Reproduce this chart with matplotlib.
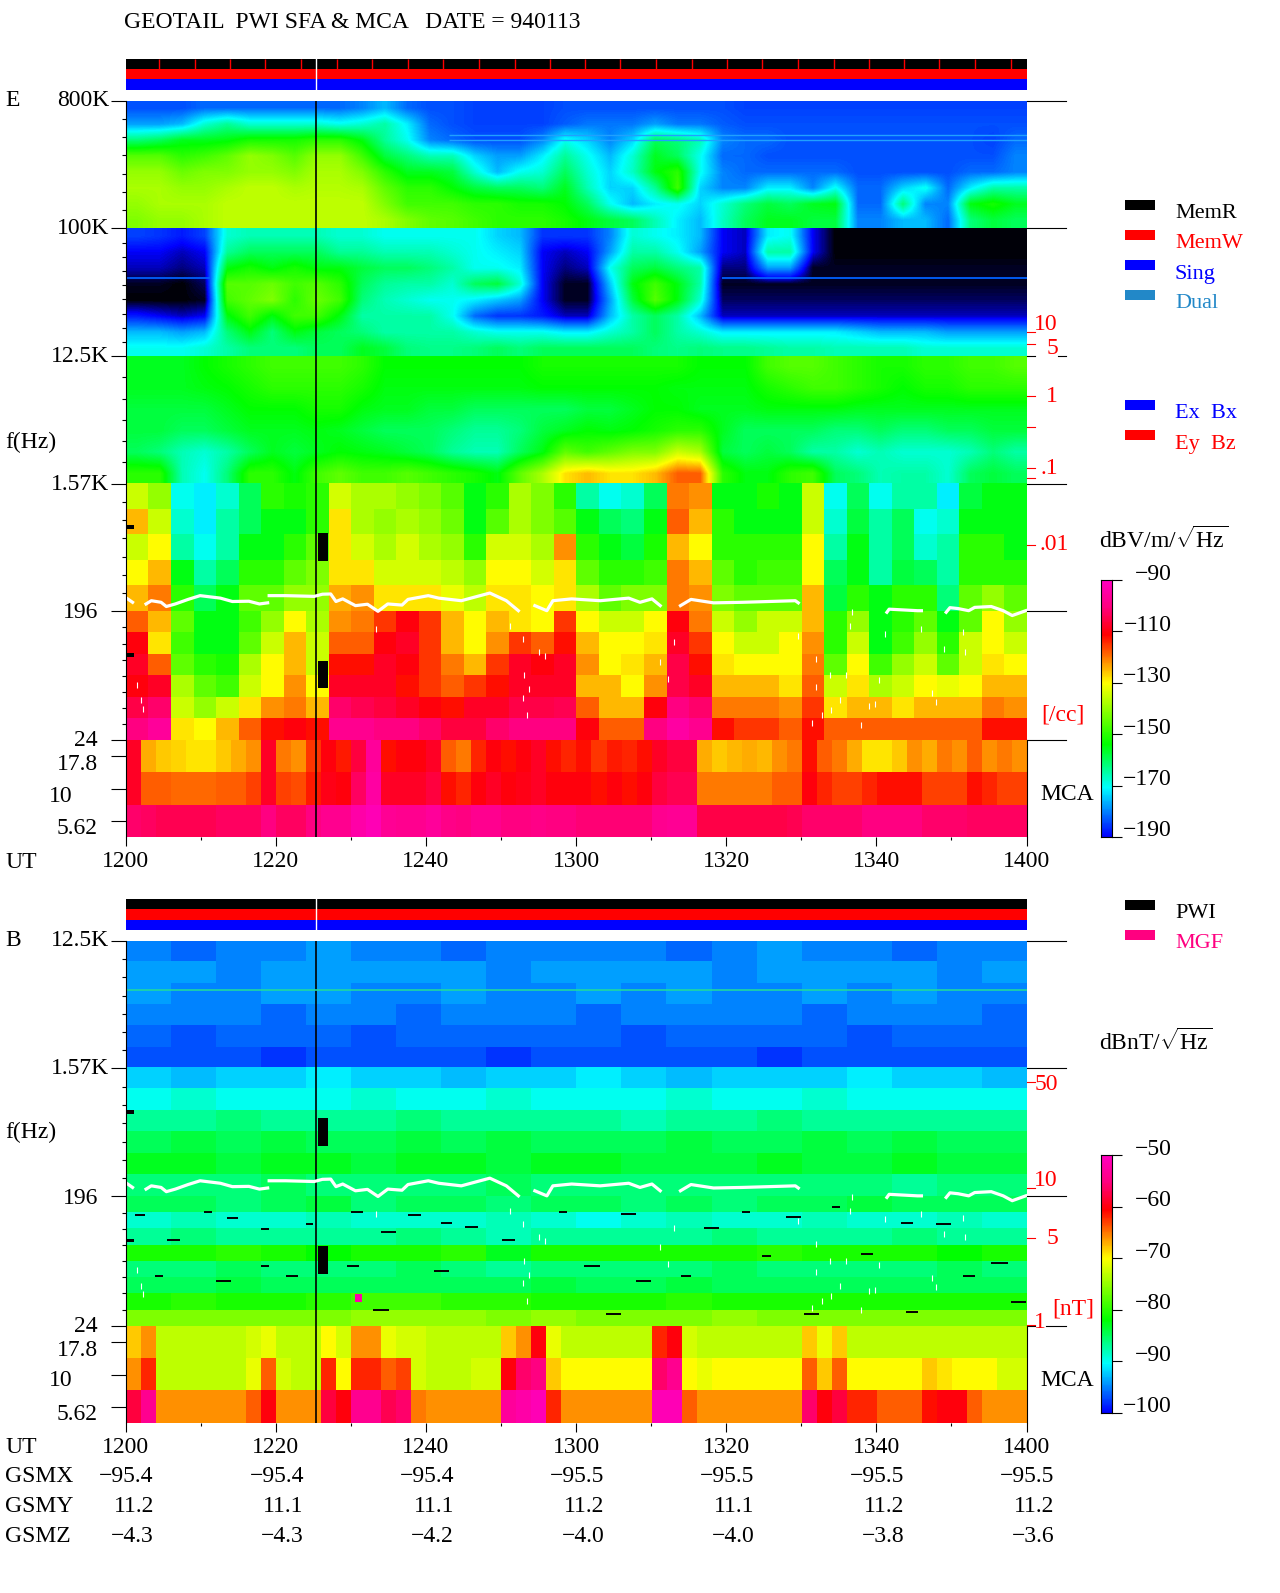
import numpy as np
import matplotlib
matplotlib.use("Agg")
import matplotlib.pyplot as plt
from matplotlib.colors import LinearSegmentedColormap, Normalize
from matplotlib.patches import Rectangle

plt.rcParams['font.family'] = ['Liberation Serif', 'DejaVu Sans']
plt.rcParams['mathtext.fontset'] = 'custom'
plt.rcParams['mathtext.rm'] = 'Liberation Serif'

# E panel, dB values read per 3 minute column, one list per row, top row first
E_800K_100K = [
    [-184,-184,-184,-182,-182,-182,-182,-182,-182,-182,-180,-176,-182,-184,-184,-185,-185,-185,-185,-184,-184,-184,-184,-184,-184,-184,-184,-185,-185,-185,-185,-185,-185,-185,-185,-185,-185,-185,-185,-185],
    [-178,-178,-176,-168,-164,-168,-168,-168,-168,-170,-168,-165,-172,-182,-184,-185,-185,-185,-185,-183,-181,-181,-181,-178,-181,-181,-183,-184,-184,-184,-184,-184,-184,-184,-184,-184,-184,-184,-184,-184],
    [-162,-160,-156,-156,-155,-152,-152,-152,-150,-150,-155,-164,-170,-180,-182,-184,-184,-184,-180,-170,-174,-180,-174,-160,-162,-166,-180,-182,-182,-184,-184,-184,-184,-184,-184,-184,-184,-184,-185,-182],
    [-146,-146,-150,-148,-145,-140,-142,-146,-140,-140,-148,-158,-162,-166,-166,-174,-178,-178,-172,-164,-170,-176,-168,-156,-160,-170,-182,-182,-184,-184,-184,-184,-184,-184,-184,-184,-184,-184,-184,-180],
    [-140,-140,-144,-142,-142,-140,-140,-142,-138,-138,-142,-150,-156,-156,-158,-168,-176,-170,-168,-160,-168,-174,-167,-155,-150,-170,-180,-182,-182,-182,-182,-182,-184,-184,-184,-184,-184,-182,-182,-180],
    [-138,-138,-140,-140,-138,-136,-136,-138,-137,-137,-138,-145,-150,-150,-154,-158,-160,-160,-162,-156,-166,-174,-174,-164,-148,-174,-180,-180,-172,-172,-180,-170,-182,-182,-174,-170,-182,-172,-165,-165],
    [-140,-138,-138,-138,-136,-136,-136,-136,-136,-136,-136,-142,-148,-148,-148,-150,-150,-152,-152,-154,-160,-170,-176,-172,-170,-174,-168,-162,-158,-160,-156,-155,-182,-182,-162,-180,-180,-155,-152,-156],
    [-142,-140,-140,-138,-136,-136,-136,-136,-136,-136,-136,-138,-142,-145,-146,-148,-150,-150,-150,-152,-155,-158,-160,-166,-172,-176,-167,-160,-156,-156,-158,-158,-180,-180,-176,-176,-182,-162,-158,-160],
]
E_100K_12K = [
    [-185,-186,-188,-185,-168,-166,-166,-166,-166,-168,-168,-170,-170,-170,-170,-170,-174,-176,-186,-186,-186,-180,-168,-170,-172,-176,-190,-192,-172,-170,-190,-198,-198,-198,-198,-198,-198,-198,-198,-198],
    [-190,-190,-192,-190,-164,-160,-160,-160,-160,-164,-164,-166,-166,-166,-168,-170,-172,-174,-190,-192,-190,-178,-165,-165,-170,-178,-190,-192,-165,-165,-190,-198,-198,-198,-198,-198,-198,-198,-198,-198],
    [-192,-192,-194,-192,-155,-152,-155,-152,-155,-155,-158,-160,-160,-162,-165,-170,-170,-172,-190,-194,-192,-170,-160,-158,-162,-165,-194,-194,-178,-178,-197,-197,-197,-197,-197,-197,-197,-197,-197,-197],
    [-197,-197,-198,-195,-146,-146,-144,-148,-146,-150,-160,-164,-165,-165,-168,-160,-158,-168,-190,-197,-197,-175,-155,-148,-155,-165,-197,-197,-197,-197,-197,-197,-197,-197,-197,-197,-197,-197,-197,-197],
    [-198,-198,-198,-197,-148,-145,-142,-150,-144,-148,-162,-166,-168,-170,-170,-172,-175,-178,-190,-197,-197,-178,-158,-146,-155,-168,-195,-195,-195,-195,-195,-195,-195,-195,-195,-195,-195,-195,-195,-195],
    [-188,-190,-192,-190,-155,-148,-155,-148,-148,-155,-165,-165,-165,-165,-170,-182,-186,-186,-188,-192,-192,-176,-165,-160,-165,-176,-192,-192,-192,-192,-192,-192,-192,-192,-192,-192,-192,-192,-192,-192],
    [-176,-176,-178,-176,-162,-155,-162,-155,-158,-160,-162,-165,-165,-165,-165,-168,-170,-170,-170,-172,-172,-168,-165,-160,-165,-168,-172,-172,-172,-172,-172,-172,-174,-176,-176,-176,-178,-178,-178,-178],
    [-170,-170,-170,-168,-165,-162,-162,-162,-160,-160,-156,-158,-162,-163,-163,-162,-160,-162,-160,-160,-160,-160,-160,-162,-163,-162,-163,-163,-164,-165,-165,-166,-166,-166,-166,-168,-168,-168,-168,-168],
]
E_12K_1K = [
    [-156,-156,-156,-154,-152,-150,-148,-148,-148,-148,-150,-154,-154,-154,-154,-154,-154,-154,-152,-152,-152,-152,-152,-152,-152,-154,-154,-154,-148,-146,-146,-148,-150,-152,-152,-150,-150,-148,-148,-146],
    [-156,-156,-156,-155,-154,-152,-150,-150,-150,-150,-152,-155,-155,-155,-155,-155,-155,-155,-154,-154,-154,-154,-154,-154,-155,-155,-155,-155,-152,-150,-148,-148,-150,-152,-154,-152,-152,-150,-150,-150],
    [-158,-158,-158,-158,-156,-154,-154,-154,-152,-152,-155,-156,-156,-158,-158,-160,-160,-160,-160,-160,-158,-158,-156,-154,-154,-156,-156,-156,-155,-155,-155,-155,-156,-156,-156,-156,-156,-156,-156,-156],
    [-158,-158,-160,-160,-158,-156,-156,-156,-155,-156,-158,-160,-160,-160,-162,-164,-164,-162,-158,-156,-154,-155,-154,-152,-150,-150,-156,-160,-160,-160,-160,-162,-162,-160,-162,-162,-160,-160,-158,-158],
    [-160,-162,-166,-168,-165,-160,-156,-158,-156,-154,-155,-156,-158,-160,-164,-166,-166,-160,-155,-145,-148,-145,-142,-142,-135,-138,-158,-160,-158,-160,-165,-165,-168,-166,-168,-168,-168,-166,-162,-165],
    [-150,-150,-166,-170,-162,-150,-150,-155,-148,-145,-148,-148,-146,-148,-150,-152,-155,-145,-138,-128,-125,-128,-128,-125,-118,-118,-150,-155,-155,-150,-148,-160,-162,-166,-165,-165,-168,-160,-158,-160],
]
E_1K_196 = [
    [-135,-140,-170,-172,-168,-160,-150,-152,-150,-134,-138,-138,-140,-142,-146,-155,-150,-138,-142,-150,-165,-170,-168,-160,-120,-122,-155,-155,-152,-155,-135,-170,-160,-170,-165,-165,-172,-158,-155,-155],
    [-125,-135,-168,-172,-165,-160,-155,-155,-150,-128,-138,-140,-138,-140,-144,-155,-146,-138,-142,-146,-155,-160,-162,-155,-118,-125,-150,-155,-155,-155,-135,-168,-158,-165,-160,-170,-168,-155,-155,-155],
    [-135,-130,-165,-170,-165,-155,-155,-150,-145,-128,-134,-138,-134,-138,-140,-150,-134,-134,-138,-122,-150,-155,-158,-152,-125,-130,-150,-150,-150,-150,-130,-165,-155,-165,-160,-168,-165,-150,-150,-155],
    [-130,-125,-155,-165,-160,-150,-150,-145,-142,-128,-128,-134,-134,-134,-136,-140,-130,-130,-134,-128,-145,-150,-150,-148,-120,-125,-145,-150,-148,-148,-130,-160,-155,-165,-158,-160,-165,-150,-150,-150],
    [-125,-120,-150,-160,-155,-145,-145,-140,-140,-124,-122,-128,-128,-128,-132,-136,-128,-128,-130,-128,-138,-145,-142,-142,-120,-122,-142,-145,-145,-145,-125,-158,-150,-155,-150,-150,-162,-145,-140,-145],
]
E_196_24 = [
    [-118,-125,-145,-155,-155,-148,-140,-130,-138,-122,-120,-115,-110,-115,-125,-130,-125,-128,-130,-115,-130,-135,-135,-130,-110,-120,-135,-140,-135,-135,-125,-150,-140,-155,-150,-145,-155,-145,-130,-140],
    [-110,-128,-148,-155,-155,-145,-135,-125,-135,-118,-118,-110,-108,-115,-125,-130,-122,-115,-118,-112,-125,-130,-130,-128,-108,-115,-130,-135,-135,-130,-122,-150,-135,-155,-148,-140,-150,-135,-130,-135],
    [-108,-118,-145,-150,-152,-138,-130,-125,-135,-112,-112,-108,-110,-115,-120,-125,-115,-108,-110,-108,-122,-130,-128,-125,-105,-112,-128,-130,-130,-130,-120,-145,-130,-148,-140,-135,-145,-135,-128,-130],
    [-110,-108,-138,-145,-148,-135,-130,-122,-130,-108,-108,-108,-112,-115,-118,-115,-112,-108,-108,-108,-125,-125,-130,-122,-105,-108,-125,-125,-125,-128,-118,-135,-128,-138,-135,-130,-132,-130,-125,-125],
    [-105,-102,-135,-140,-135,-128,-122,-120,-125,-102,-104,-106,-108,-110,-112,-108,-108,-105,-105,-104,-118,-125,-125,-110,-100,-102,-120,-120,-120,-122,-115,-128,-125,-125,-128,-125,-125,-125,-120,-122],
    [-100,-96,-128,-130,-125,-118,-112,-110,-112,-98,-98,-100,-100,-102,-106,-106,-102,-100,-100,-100,-110,-118,-118,-100,-95,-98,-112,-115,-115,-118,-112,-118,-118,-118,-118,-118,-118,-118,-112,-112],
]
# MCA channels, 2 minute columns
E_MCA_17 = [-108,-124,-126,-127,-128,-128,-126,-124,-122,-108,-120,-122,-115,-110,-113,-106,-96,-112,-110,-110,-108,-118,-120,-114,-110,-112,-110,-108,-112,-114,-112,-115,-113,-114,-112,-108,-106,-106,-124,-126,-125,-124,-125,-122,-120,-112,-118,-120,-124,-128,-128,-126,-122,-124,-120,-122,-118,-122,-120,-122]
E_MCA_10 = [-108,-118,-118,-119,-119,-119,-118,-118,-116,-108,-116,-117,-113,-109,-110,-103,-95,-108,-108,-108,-106,-112,-114,-110,-108,-110,-109,-108,-110,-110,-110,-112,-110,-112,-110,-106,-104,-104,-120,-120,-120,-120,-120,-118,-118,-110,-114,-116,-116,-114,-112,-112,-112,-116,-116,-116,-112,-114,-116,-116]
E_MCA_5 = [-102,-103,-104,-104,-104,-104,-103,-103,-103,-100,-103,-103,-100,-98,-98,-94,-92,-97,-98,-98,-96,-99,-100,-98,-98,-100,-100,-99,-100,-100,-101,-101,-101,-101,-101,-98,-97,-97,-105,-105,-105,-105,-105,-105,-104,-102,-102,-102,-102,-100,-100,-100,-100,-102,-102,-102,-103,-103,-103,-103]

# B panel, 6 minute columns, top row first
B_12K_1K = [
    [-95,-96,-95,-95,-94,-95,-95,-96,-95,-95,-95,-95,-96,-95,-94,-95,-95,-96,-95,-95],
    [-94,-94,-95,-94,-94,-94,-94,-94,-95,-94,-94,-94,-94,-95,-94,-94,-94,-94,-95,-94],
    [-94,-95,-95,-94,-94,-95,-95,-94,-95,-95,-94,-95,-94,-95,-95,-94,-95,-94,-95,-95],
    [-95,-95,-95,-96,-95,-95,-96,-95,-95,-95,-96,-95,-95,-95,-95,-96,-95,-95,-95,-96],
    [-96,-97,-96,-96,-96,-97,-96,-96,-96,-96,-96,-97,-96,-96,-96,-96,-97,-96,-96,-96],
    [-97,-97,-97,-98,-97,-97,-97,-97,-98,-97,-97,-97,-97,-97,-98,-97,-97,-97,-97,-97],
]
B_1K_196 = [
    [-92,-93,-92,-92,-91,-92,-92,-93,-92,-92,-91,-92,-93,-92,-92,-92,-91,-92,-92,-93],
    [-90,-89,-90,-90,-90,-89,-90,-90,-89,-90,-90,-90,-89,-90,-90,-89,-90,-90,-90,-90],
    [-87,-87,-86,-87,-87,-87,-86,-87,-87,-87,-87,-88,-87,-87,-86,-87,-87,-87,-87,-87],
    [-85,-84,-85,-84,-85,-85,-84,-85,-84,-85,-85,-85,-84,-85,-85,-84,-85,-84,-85,-85],
    [-83,-83,-84,-83,-83,-84,-83,-83,-84,-83,-83,-84,-84,-84,-83,-84,-84,-83,-84,-84],
    [-86,-86,-86,-85,-86,-86,-86,-86,-85,-86,-86,-86,-86,-86,-86,-86,-86,-87,-86,-86],
]
B_196_24 = [
    [-85,-85,-86,-85,-84,-86,-85,-85,-86,-85,-85,-86,-85,-86,-85,-85,-84,-85,-85,-85],
    [-89,-88,-89,-89,-88,-89,-89,-89,-88,-89,-90,-89,-88,-89,-89,-88,-89,-89,-88,-89],
    [-87,-86,-87,-87,-87,-87,-86,-87,-88,-87,-87,-87,-87,-86,-87,-87,-87,-86,-87,-87],
    [-81,-81,-80,-81,-82,-81,-81,-80,-83,-81,-81,-81,-81,-81,-80,-81,-81,-81,-82,-81],
    [-86,-86,-85,-86,-86,-86,-85,-86,-87,-86,-86,-86,-86,-85,-86,-86,-86,-86,-85,-86],
    [-85,-85,-84,-85,-85,-85,-85,-85,-85,-84,-85,-85,-84,-85,-85,-85,-85,-85,-85,-85],
    [-81,-80,-81,-81,-80,-79,-79,-80,-80,-81,-81,-81,-80,-81,-81,-81,-81,-81,-81,-81],
    [-76,-76,-76,-76,-76,-75,-75,-75,-76,-75,-76,-76,-76,-75,-76,-76,-76,-76,-76,-76],
]
B_MCA_17 = [-68,-66,-73,-73,-73,-73,-73,-73,-72,-71,-73,-73,-73,-70,-72,-66,-66,-71,-72,-72,-73,-73,-73,-73,-73,-68,-66,-60,-71,-73,-73,-73,-73,-73,-73,-62,-60,-72,-73,-73,-73,-73,-73,-73,-73,-68,-71,-68,-73,-73,-73,-73,-73,-73,-73,-73,-73,-73,-73,-73]
B_MCA_10 = [-66,-62,-73,-73,-73,-73,-73,-73,-71,-64,-72,-73,-73,-62,-70,-62,-62,-64,-63,-72,-73,-73,-73,-72,-72,-60,-56,-55,-68,-70,-70,-70,-70,-70,-70,-56,-54,-70,-71,-70,-70,-70,-70,-70,-70,-64,-68,-64,-70,-70,-70,-70,-70,-68,-69,-70,-70,-70,-72,-72]
B_MCA_5 = [-58,-54,-66,-66,-66,-66,-66,-66,-64,-60,-66,-66,-66,-58,-60,-54,-54,-57,-56,-65,-66,-66,-66,-66,-66,-53,-52,-51,-62,-66,-66,-66,-66,-66,-66,-51,-51,-64,-66,-66,-66,-66,-66,-66,-66,-56,-60,-58,-62,-62,-64,-64,-64,-61,-60,-60,-64,-66,-66,-66]

# white trace, minutes after 1200 and Hz, nan marks a break
TRACE_T = [0.1,0.9,np.nan,2.7,3.4,4.7,5.4,6.6,8.3,9.9,12.6,14.2,16.4,17.8,18.9,np.nan,19.1,21.3,25.1,26.2,27.3,28,28.9,30.6,32.2,33.6,34.9,36.8,37.6,40.3,41.7,44.7,48.5,50.7,52.3,np.nan,54.5,56.1,56.9,59.4,63.2,67,68.5,70.1,71.2,np.nan,73.9,75.3,78.3,82.1,89.2,89.6,np.nan,101.4,101.7,105.5,106,np.nan,109.3,109.8,110.9,112.3,113.1,115.3,116.9,118.1,119.9]
TRACE_F = [243,227,np.nan,221,233,227,212,221,238,253,243,230,231,221,225,np.nan,253,253,250,259,260,230,240,215,220,196,221,217,238,253,243,233,264,233,198,np.nan,215,198,233,240,233,243,227,240,215,np.nan,215,238,225,227,233,225,np.nan,193,203,198,198,np.nan,193,208,205,198,209,212,198,183,198]
SPECK_T = [91.4,92.7,94,95.2,93.8,92,91.9,96,96.8,96.5,97.9,99,99.8,100.3,101.1,106,107.4,108,109,111.5,111.8,89.5,72.3,73.1,71.2,1.5,2,2.3,53.1,53.7,52.9,53.4,55,55.8,51.2,52.9,33.3]
SPECK_F = [32,36,39,46,69,57,90,69,193,155,31,42,43,64,136,147,52,45,106,139,101,132,65,118,86,59,46,40,69,55,48,36,101,95,155,125,147]

# data gaps (t0, t1, f low, f high)
GAPS = [(25.6, 27.0, 446, 700), (25.6, 27.0, 56, 88), (0, 1.1, 750, 800), (0, 1.1, 93, 99)]
# black dropouts in the B panel (t0, t1, Hz)
B_DROPS = [(1.2,2.6,145),(10.4,11.5,153),(18,19.1,115),(5.5,7.2,96),(3.9,5,54),(18,19.1,63),(21.3,22.9,54),(30,31.6,153),(29.5,31.1,63),
           (37.6,39.3,145),(45.2,46.9,119),(57.7,58.8,153),(61,63.2,63),(50.1,51.8,96),(82.1,83.2,153),(94.1,95.2,165),(103.3,104.9,128),
           (74,75.3,54),(84.8,85.9,75),(97.9,99.5,77),(111.5,113.1,54),(115.3,117.5,66),(118,119.9,35),(103.9,105.5,30),(90.3,92.4,29),
           (13.5,15,138),(24,25,125),(34,36,110),(42,43.5,128),(66,68,148),(77,79,118),(88,90,140),(108,110,125),(12,14,50),(41,43,58),(68,70,50),(33,35,31),(64,66,29)]
B_SPOT = (30.5, 31.5, 35, 40, -52)
B_LINE_HZ = 5600

HEADER_MARKS = [4.46,9.19,13.92,18.6,23.35,28.1,32.8,37.6,42.3,47,51.8,56.5,61.2,65.9,70.7,75.4,80.1,84.8,89.5,94.3,99,103.7,108.4,113.2,117.9]
EVENT_T = 25.4
TIME_TICKS = [0, 20, 40, 60, 80, 100, 120]
TIME_LABELS = ['1200', '1220', '1240', '1300', '1320', '1340', '1400']
GSMX = ['−95.4', '−95.4', '−95.4', '−95.5', '−95.5', '−95.5', '−95.5']
GSMY = ['11.2', '11.1', '11.1', '11.2', '11.1', '11.2', '11.2']
GSMZ = ['−4.3', '−4.3', '−4.2', '−4.0', '−4.0', '−3.8', '−3.6']

W, H = 1280, 1593
LEFT, RIGHT = 125.8, 1026.5
SMOOTH = 'bilinear'

cmap = LinearSegmentedColormap.from_list('pwi', [
    (0, '#000008'), (8/108, '#0000ff'), (27/108, '#00ffff'), (44/108, '#00ff00'),
    (68/108, '#ffff00'), (87/108, '#ff0000'), (98/108, '#ff0080'), (1, '#ff00c0')])
norm_e = Normalize(-198, -90)
norm_b = Normalize(-104, -50)

fig = plt.figure(figsize=(W/100, H/100), dpi=100, facecolor='white')

def px_axes(l, t, r, b):
    return fig.add_axes([l/W, 1-b/H, (r-l)/W, (b-t)/H])

ov = fig.add_axes([0, 0, 1, 1], zorder=10)
ov.set_xlim(0, W)
ov.set_ylim(H, 0)
ov.axis('off')

def label(x, y, s, ha='right', color='k', size=17):
    ov.text(x, y+2, s, ha=ha, va='center', color=color, fontsize=size)

def header(top, marks):
    ax = px_axes(LEFT, top, RIGHT, top+30.5)
    ax.barh([2.5, 1.5, 0.5], [120]*3, height=1, left=0, color=['k', '#ff0000', '#0000ff'])
    if marks:
        ax.vlines(marks, 2, 3, color='#ff0000', lw=1)
    ax.axvline(EVENT_T, color='white', lw=1)
    ax.set_xlim(0, 120)
    ax.set_ylim(0, 3)
    ax.axis('off')
    return ax

def panel(top, bot_sfa, bot, bands, mca, norm, edges_f, n_minor, major_labels):
    # frequency bands sit on a log10 axis, MCA channels on their own strip
    ax = px_axes(LEFT, top, RIGHT, bot_sfa)
    lf = np.log10
    for rows, f_hi, f_lo, interp in bands:
        ax.imshow(rows, cmap=cmap, norm=norm, aspect='auto', interpolation=interp,
                  extent=(0, 120, lf(f_lo), lf(f_hi)))
    ax.set_xlim(0, 120)
    ax.set_ylim(lf(edges_f[-1]), lf(edges_f[0]))
    ax.set_yticks(lf(edges_f))
    minors = []
    for hi, lo, n in zip(edges_f[:-1], edges_f[1:], n_minor):
        minors.extend(np.geomspace(hi, lo, n+1)[1:-1])
    ax.set_yticks(lf(minors), minor=True)
    ax.tick_params(axis='y', which='major', length=11, width=0.8, labelleft=False)
    ax.tick_params(axis='y', which='minor', length=3.2, width=0.8)
    ax.set_xticks([])
    for side in ['top', 'right', 'bottom']:
        ax.spines[side].set_visible(False)
    ax.axvline(EVENT_T, color='k', lw=1.2)
    for t0, t1, f0, f1 in GAPS:
        ax.fill_between([t0, t1], lf(f0), lf(f1), color='k', lw=0)
    ax.plot(TRACE_T, lf(TRACE_F), color='white', lw=2.3)
    ax.scatter(SPECK_T, lf(SPECK_F), marker='|', s=18, color='white', lw=0.8, zorder=4)

    low = px_axes(LEFT, bot_sfa, RIGHT, bot)
    low.imshow(mca, cmap=cmap, norm=norm, aspect='auto', interpolation='nearest', extent=(0, 120, 0, 3))
    low.axvline(EVENT_T, color='k', lw=1.2)
    low.set_xlim(0, 120)
    low.set_ylim(0, 3)
    low.set_yticks([2.5, 1.5, 0.5])
    low.set_yticklabels([])
    low.tick_params(axis='y', length=11, width=0.8)
    low.set_xticks(TIME_TICKS)
    low.set_xticks([10, 30, 50, 70, 90, 110], minor=True)
    low.set_xticklabels(TIME_LABELS, fontsize=17)
    low.tick_params(axis='x', which='major', length=6.5, width=0.8, pad=3.5)
    low.tick_params(axis='x', which='minor', length=2, width=0.8)
    for side in ['top', 'bottom']:
        low.spines[side].set_visible(False)
    for f, x0, x1 in major_labels:
        ax.plot([x0, x1], [lf(f), lf(f)], color='k', lw=0.8, clip_on=False,
                transform=ax.get_yaxis_transform())
    return ax

def colorbar(top, bot, lo, hi, step, norm, off):
    cax = px_axes(1100.5, top, 1111.5, bot)
    ramp = np.arange(lo, hi+0.25, (hi-lo)/200)[:, None]
    cax.imshow(ramp, origin='lower', extent=(0, 1, lo, hi), aspect='auto', cmap=cmap, norm=norm)
    ticks = list(range(lo, hi+1, step))
    cax.set_xticks([])
    cax.yaxis.tick_right()
    cax.set_yticks(ticks)
    cax.set_yticklabels([])
    cax.tick_params(axis='y', length=7, width=0.8)
    for v in ticks:
        y = bot-(v-lo)/(hi-lo)*(bot-top)
        label(1172, y-off, '−%d' % abs(v))

# E panel
header(59, HEADER_MARKS)
e_bands = [(E_800K_100K, 800e3, 100e3, SMOOTH), (E_100K_12K, 100e3, 12.5e3, SMOOTH),
           (E_12K_1K, 12.5e3, 1570, SMOOTH), (E_1K_196, 1570, 196, 'nearest'), (E_196_24, 196, 24, 'nearest')]
e_edges = [800e3, 100e3, 12.5e3, 1570, 196, 24]
e_lines = [(800e3, 1, 1.044), (100e3, 1, 1.044), (12.5e3, 1, 1.009), (12.5e3, 1.035, 1.044),
           (1570, 1, 1.044), (196, 1, 1.044), (24, 1, 1.044)]
ax_e = panel(100.7, 740.3, 837.3, e_bands, [E_MCA_17, E_MCA_10, E_MCA_5], norm_e, e_edges, [7, 9, 6, 7, 8], e_lines)
ax_e.hlines(np.log10([44500, 44500]), [0, 79.4], [11.2, 120], color='#0060ff', lw=1.3)
ax_e.hlines(np.log10([422000, 457000]), [43, 43], [120, 120], color='#20a0ff', lw=1)

for y, s in [(98.7, '800K'), (226.7, '100K'), (355, '12.5K'), (482, '1.57K')]:
    label(109, y, s)
for y, s in [(610.7, '196'), (738, '24'), (762, '17.8'), (826, '5.62')]:
    label(98, y, s)
label(73, 794, '10')
label(5, 99, 'E', ha='left')
label(5, 440, 'f(Hz)', ha='left')
label(5, 860, 'UT', ha='left')
label(1040, 793, 'MCA', ha='left')
label(124, 20, 'GEOTAIL  PWI SFA & MCA   DATE = 940113', ha='left')

for y, s, x in [(322, '10', 1058), (346, '5', 1058), (394, '1', 1058), (467, '.1', 1058), (543, '.01', 1069)]:
    label(x, y, s, color='#ff0000')
for y in [332, 344, 396, 427, 468, 478, 545]:
    ov.plot([1026.5, 1034.5], [y, y], color='#ff0000', lw=0.8)
label(1085, 713, '[/cc]', color='#ff0000')

# B panel
header(899.2, None)
b_bands = [(B_12K_1K, 12.5e3, 1570, 'nearest'), (B_1K_196, 1570, 196, 'nearest'), (B_196_24, 196, 24, 'nearest')]
b_edges = [12.5e3, 1570, 196, 24]
b_lines = [(12.5e3, 1, 1.044), (1570, 1, 1.044), (196, 1, 1.044), (24, 1, 1.009), (24, 1.022, 1.044)]
ax_b = panel(940.8, 1325.7, 1423.3, b_bands, [B_MCA_17, B_MCA_10, B_MCA_5], norm_b, b_edges, [7, 7, 8], b_lines)
ax_b.axhline(np.log10(B_LINE_HZ), color='#20d8a0', lw=1.2)
for t0, t1, f in B_DROPS:
    ax_b.hlines(np.log10(f), t0, t1, color='k', lw=1.4)
t0, t1, f0, f1, v = B_SPOT
ax_b.fill_between([t0, t1], np.log10(f0), np.log10(f1), color=cmap(norm_b(v)), lw=0)

for y, s in [(939, '12.5K'), (1067, '1.57K')]:
    label(109, y, s)
for y, s in [(1196, '196'), (1324, '24'), (1348, '17.8'), (1412, '5.62')]:
    label(98, y, s)
label(73, 1379, '10')
label(5, 939, 'B', ha='left')
label(5, 1130, 'f(Hz)', ha='left')
label(1040, 1379, 'MCA', ha='left')
for y, s, rows in [(1474, 'GSMX', GSMX), (1504, 'GSMY', GSMY), (1534, 'GSMZ', GSMZ)]:
    label(5, y, s, ha='left')
    for t, v in zip(TIME_TICKS, rows):
        label(LEFT + t/120*(RIGHT-LEFT) + 28, y, v)
label(5, 1445.5, 'UT', ha='left')

for y, s in [(1082.7, '50'), (1178.5, '10'), (1237, '5')]:
    label(1058, y, s, color='#ff0000')
label(1046, 1320, '1', color='#ff0000')
for y in [1082, 1188, 1238, 1325]:
    ov.plot([1026.5, 1034.5], [y, y], color='#ff0000', lw=0.8)
label(1094, 1306.7, '[nT]', color='#ff0000')

# colour bars
colorbar(580, 837, -190, -90, 20, norm_e, 8)
colorbar(1155.4, 1412.6, -100, -50, 10, norm_b, 8)
label(1099, 538, r'dBV/m/$\sqrt{\mathrm{Hz}}$', ha='left')
label(1099, 1040, r'dBnT/$\sqrt{\mathrm{Hz}}$', ha='left')

# legends
legend_rows = [(205, 'MemR', 'k'), (235, 'MemW', '#ff0000'), (265, 'Sing', '#0000ff'), (295, 'Dual', '#2288c8'),
               (405, 'Ex  Bx', '#0000ff'), (435, 'Ey  Bz', '#ff0000'), (905, 'PWI', 'k'), (935, 'MGF', '#ff0080')]
for y, s, c in legend_rows:
    ov.add_patch(Rectangle((1125, y-5), 30, 10, color=c, lw=0))
    label(1175, y+7, s, ha='left', color=c, size=16)

fig.savefig('out.png', dpi=100, facecolor='white')
